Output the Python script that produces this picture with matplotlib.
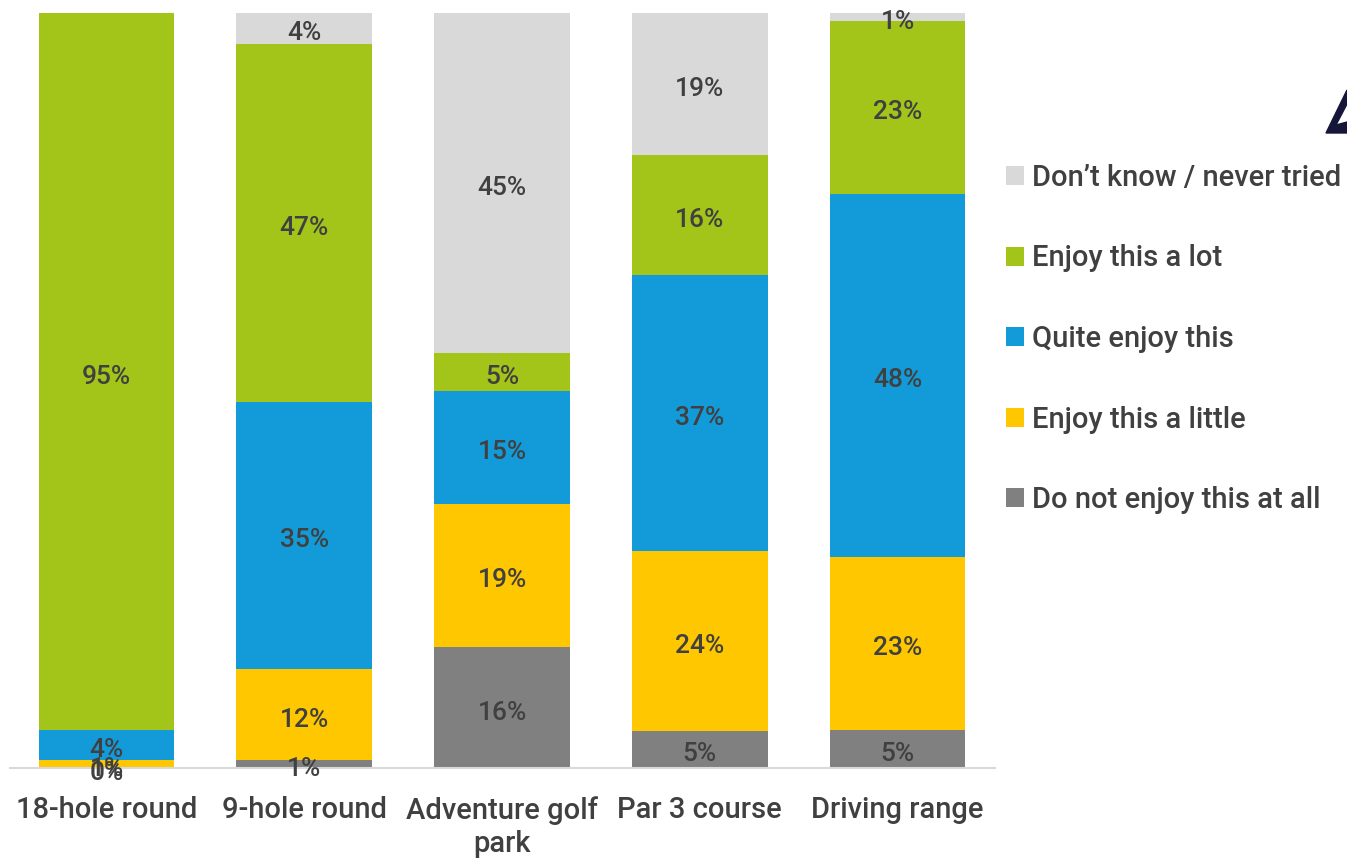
import numpy as np
import matplotlib.pyplot as plt
from matplotlib.patches import Polygon

plt.rcParams['font.family'] = ['Roboto', 'DejaVu Sans']

categories = ["18-hole round", "9-hole round", "Adventure golf\npark", "Par 3 course", "Driving range"]
series = ["Do not enjoy this at all", "Enjoy this a little", "Quite enjoy this",
          "Enjoy this a lot", "Don\u2019t know / never tried"]
not_at_all = [0, 1, 16, 5, 5]
a_little = [1, 12, 19, 24, 23]
quite = [4, 35, 15, 37, 48]
a_lot = [95, 47, 5, 16, 23]
dont_know = [np.nan, 4, 45, 19, 1]
colors = ["#808080", "#FFC700", "#139BD9", "#A3C51A", "#D9D9D9"]
text_color = "#404040"

values = np.array([not_at_all, a_little, quite, a_lot, dont_know], dtype=float)
# 100% stacked: each column scaled to its own total
totals = np.nansum(values, axis=0)
shares = np.nan_to_num(values) / totals * 100

fig = plt.figure(figsize=(13.47, 8.6), dpi=100)
W, H = 1347, 860
ax = fig.add_axes([10 / W, 1 - 768 / H, 985 / W, 755 / H])

x = np.arange(len(categories))
bottom = np.zeros(len(categories))
handles = []
for i, name in enumerate(series):
    h = ax.bar(x, shares[i], 0.687, bottom=bottom, color=colors[i], label=name, zorder=2)
    handles.append(h)
    for j in range(len(categories)):
        if np.isnan(values[i, j]):
            continue
        ax.annotate(f"{values[i, j]:.0f}%", (x[j], bottom[j] + shares[i, j] / 2),
                    xytext=(0, -3.6), textcoords="offset points",
                    ha="center", va="center", fontsize=19, fontweight="medium",
                    color=text_color, zorder=3)
    bottom += shares[i]

ax.set_xlim(-0.488, 4.493)
ax.set_ylim(0, 100)
for s in ["top", "right", "left"]:
    ax.spines[s].set_visible(False)
ax.spines["bottom"].set_color("#D9D9D9")
ax.spines["bottom"].set_linewidth(1.5)
ax.set_yticks([])
ax.set_xticks(x)
ax.set_xticklabels(categories, fontsize=21, fontweight="medium", color=text_color,
                   linespacing=1.25)
ax.tick_params(axis="x", length=0, pad=20)

fig.legend(handles[::-1], series[::-1], loc="upper left",
           bbox_to_anchor=(1006 / W, 1 - 164 / H), frameon=False,
           prop={"weight": "medium", "size": 21},
           handlelength=0.62, handleheight=0.62, handletextpad=0.27,
           labelspacing=1.8, borderpad=0, borderaxespad=0, labelcolor=text_color)

# corner logo fragment
logo = Polygon([(1326 / W, 1 - 133 / H), (1347 / W, 1 - 90 / H), (1347 / W, 1 - 104 / H),
                (1336 / W, 1 - 125 / H), (1347 / W, 1 - 122 / H), (1347 / W, 1 - 133 / H)],
               closed=True, transform=fig.transFigure, color="#161638")
fig.patches.append(logo)

fig.savefig("out.png", dpi=100)
